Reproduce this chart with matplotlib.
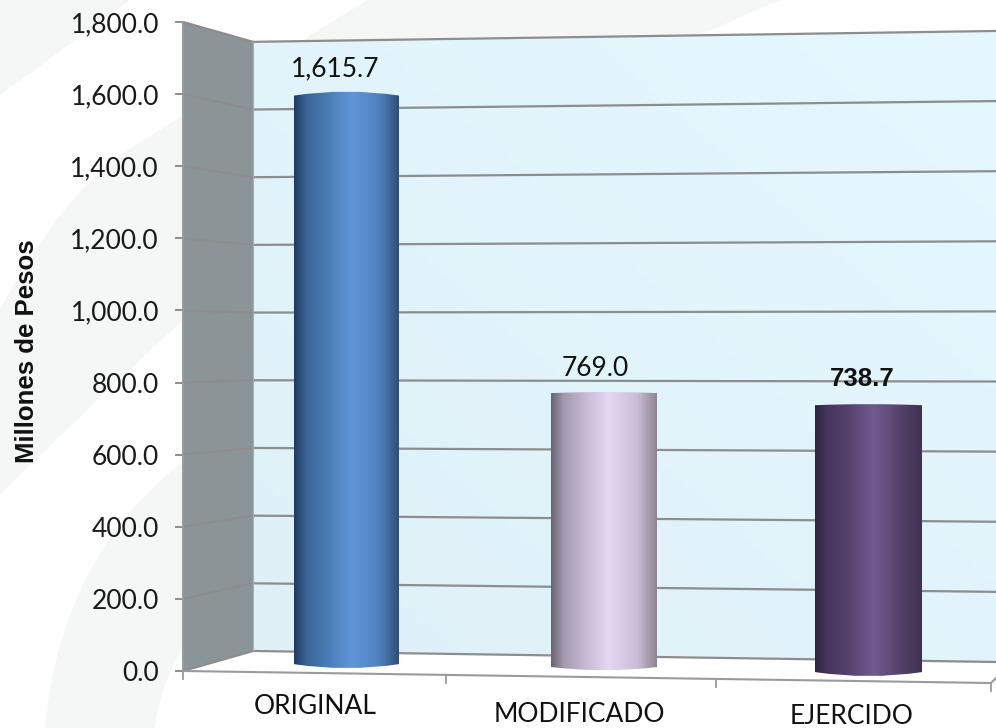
import numpy as np
from matplotlib import pyplot as plt
from matplotlib.colors import LinearSegmentedColormap
from matplotlib.patches import PathPatch, Polygon
from matplotlib.path import Path

categories = ['ORIGINAL', 'MODIFICADO', 'EJERCIDO']
values = [1615.7, 769.0, 738.7]
y_ticks = [0, 200, 400, 600, 800, 1000, 1200, 1400, 1600, 1800]

# bars sit at different depths so each one has its own placement
bar_left = [294, 551, 815]
bar_right = [399, 657, 922]
bar_base = [19.0, 11.0, -3.0]
bar_scale = [0.976, 0.988, 1.002]
top_bulge = [11, 3, 3]
bottom_bulge = [11, 9, 11]
bar_colors = [
    ['#1f3c63', '#3a6596', '#4a7cb6', '#6097d9', '#4f80bd', '#2f4f75'],
    ['#6a6470', '#a39ab0', '#c5b9d3', '#e5d8f2', '#c8bcd4', '#8b8593'],
    ['#2e2440', '#46365f', '#57426e', '#715a8f', '#523f68', '#3f3250'],
]
color_stops = [0.0, 0.12, 0.32, 0.55, 0.82, 1.0]
label_x = [335, 595, 862]
label_gap = [53, 47, 53]
label_bold = [False, False, True]
category_x = [315, 579, 852]
category_y = [707, 714, 716]
floor_ticks = [183, 446, 716, 991]

WALL_FRONT = 183
WALL_BACK = 253
RIGHT_EDGE = 996
FONT = 'Lato'
LINE = '#8d8d8d'


def back_y(v: float) -> float:
    return 55.5 + 0.9386 * v


def right_y(v: float) -> float:
    return 25.0 + 0.9723 * v


def floor_y(x: float) -> float:
    return -(x - WALL_FRONT) * 0.0149 * 2.77


def swoosh_patch(verts: list[tuple[float, float]], codes: list[int]) -> PathPatch:
    return PathPatch(Path(verts, codes), fc='#f5f7f6', ec='none', lw=0)


fig = plt.figure(figsize=(9.96, 7.28), dpi=100, facecolor='white')

# faint swooshes behind the chart, in picture pixels
bg = fig.add_axes((0, 0, 1, 1))
bg.set_xlim(0, 996)
bg.set_ylim(728, 0)
bg.axis('off')
M, L, C = Path.MOVETO, Path.LINETO, Path.CURVE3
bg.add_patch(swoosh_patch([(0, 0), (130, 0), (0, 95), (0, 0)], [M, L, L, L]))
bg.add_patch(swoosh_patch(
    [(0, 310), (55, 205), (120, 155), (367, 0), (780, 0), (700, 35), (400, 160), (180, 323), (90, 405), (0, 495),
     (0, 310)],
    [M, C, C, L, L, L, L, L, C, C, L]))
bg.add_patch(swoosh_patch(
    [(45, 728), (60, 560), (180, 464), (260, 420), (260, 560), (165, 640), (155, 728), (45, 728)],
    [M, C, C, L, L, C, C, L]))

ax = fig.add_axes((183 / 996, 57 / 728, 808 / 996, 649 / 728))
ax.patch.set_visible(False)
for spine in ax.spines.values():
    spine.set_visible(False)

# walls and floor
wall_shade = LinearSegmentedColormap.from_list('wall', ['#dff1f7', '#e5f8ff'])
wall_clip = Polygon([(WALL_BACK, back_y(0)), (RIGHT_EDGE, right_y(0)), (RIGHT_EDGE, right_y(1800)),
                     (WALL_BACK, back_y(1800))], transform=ax.transData, fc='none', lw=0)
ax.add_patch(wall_clip)
wall_grid = np.linspace(0, 1, 64)[None, :] * 0.5 + np.linspace(0, 1, 64)[:, None] * 0.5
wall_img = ax.imshow(wall_grid, cmap=wall_shade, extent=(WALL_BACK, RIGHT_EDGE, 0, 1800), origin='lower',
                     aspect='auto', zorder=1)
wall_img.set_clip_path(wall_clip)
wall_img.set_clip_box(fig.bbox)
ax.add_patch(Polygon([(WALL_FRONT, 0), (WALL_BACK, back_y(0)), (WALL_BACK, back_y(1800)), (WALL_FRONT, 1800)],
                     fc='#8b9598', ec='none', zorder=1, clip_on=False))
ax.add_patch(Polygon([(WALL_FRONT, 0), (WALL_BACK, back_y(0)), (RIGHT_EDGE, right_y(0)), (RIGHT_EDGE, -26),
                      (991, floor_y(991))], fc='white', ec='none', zorder=1, clip_on=False))

for v in y_ticks:
    ax.plot([WALL_FRONT, WALL_BACK, RIGHT_EDGE], [v, back_y(v), right_y(v)], color=LINE, lw=1.6, zorder=2,
            clip_on=False, solid_capstyle='butt', solid_joinstyle='miter')
ax.plot([WALL_FRONT, WALL_FRONT], [0, 1800], color='#9a9a9a', lw=1.4, zorder=2, clip_on=False)
ax.plot([WALL_BACK, WALL_BACK], [back_y(0), back_y(1800)], color='#a9b0b2', lw=0.8, zorder=2, clip_on=False)

# floor edge and its ticks
ax.plot([WALL_FRONT, 991, RIGHT_EDGE], [floor_y(WALL_FRONT), floor_y(991), floor_y(991) + 14], color='#9a9a9a',
        lw=1.5, zorder=2, clip_on=False)
for x in floor_ticks:
    ax.plot([x, x], [floor_y(x), floor_y(x) - 22], color='#9a9a9a', lw=1.3, zorder=2, clip_on=False)

# cylinders, a gradient image clipped to each outline
for i, value in enumerate(values):
    left, right = bar_left[i], bar_right[i]
    mid = (left + right) / 2
    base = bar_base[i]
    top = base + value * bar_scale[i]
    outline = Path(
        [(left, top), (mid, top + 2 * top_bulge[i]), (right, top), (right, base),
         (mid, base - 2 * bottom_bulge[i]), (left, base), (left, top)],
        [M, C, C, L, C, C, L])
    clip = PathPatch(outline, transform=ax.transData, fc='none', lw=0, clip_on=False)
    ax.add_patch(clip)
    shade = LinearSegmentedColormap.from_list(f'bar{i}', list(zip(color_stops, bar_colors[i])))
    img = ax.imshow(np.linspace(0, 1, 256)[None, :], cmap=shade, extent=(left, right, base - 30, top + 30),
                    aspect='auto', zorder=3)
    img.set_clip_path(clip)
    img.set_clip_box(fig.bbox)
    ax.text(label_x[i], top + label_gap[i], f'{value:,.1f}', ha='center', va='baseline', color='#111111', zorder=4,
            fontsize=18.5 if label_bold[i] else 19, fontweight='bold' if label_bold[i] else 'normal',
            family='Liberation Sans' if label_bold[i] else FONT)

ax.set_xlim(183, 991)
ax.set_ylim(0, 1800)
ax.set_xticks([])
ax.set_yticks(y_ticks)
ax.set_yticklabels([f'{v:,.1f}' for v in y_ticks], fontsize=19, family=FONT, color='#1a1a1a')
ax.tick_params(axis='y', length=5.8, width=1.4, color=LINE, pad=11.5)

for name, x, y in zip(categories, category_x, category_y):
    bg.text(x, y, name, ha='center', va='center', fontsize=19, family=FONT, color='#111111')
bg.text(27, 351, 'Millones de Pesos', rotation=90, ha='center', va='center', fontsize=18.5, fontweight='bold',
        family='Liberation Sans', color='#111111')

fig.savefig('out.png', dpi=100)
